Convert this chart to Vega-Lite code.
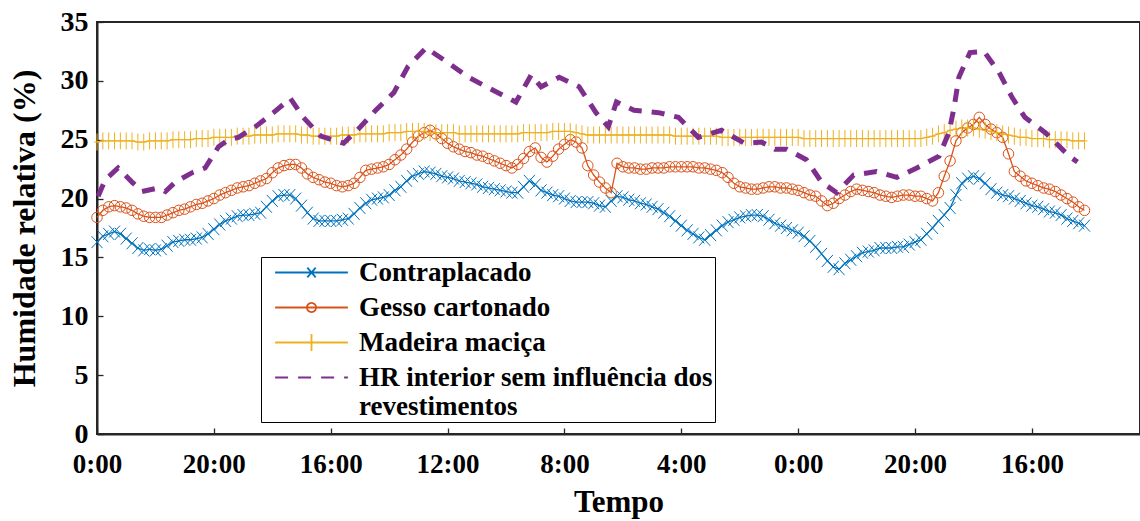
{
  "$schema": "https://vega.github.io/schema/vega-lite/v6.json",
  "width": 1043,
  "height": 412,
  "autosize": "none",
  "padding": {"left": 97, "top": 22, "right": 0, "bottom": 87},
  "background": "white",
  "config": {
    "view": {"stroke": "#262626", "strokeWidth": 2},
    "font": "Liberation Serif",
    "legend": {
      "orient": "none", "legendX": 164, "legendY": 235,
      "labelFont": "Liberation Serif", "labelFontWeight": "bold", "labelFontSize": 27, "labelColor": "black", "labelLimit": 0,
      "symbolSize": 196, "symbolOffset": 35, "labelOffset": 34, "rowPadding": 7,
      "symbolStrokeWidth": 1.8, "symbolOpacity": 1, "symbolFillColor": "transparent",
      "strokeColor": "black", "fillColor": "white", "padding": 2
    }
  },
  "datasets": {
    "mat": [
      {"t":0,"c":16.3,"g":18.4,"m":24.8},{"t":1,"c":16.8,"g":19.0,"m":24.9},{"t":2,"c":17.0,"g":19.3,"m":24.9},{"t":3,"c":17.2,"g":19.4,"m":24.9},{"t":4,"c":17.0,"g":19.3,"m":24.9},{"t":5,"c":16.6,"g":19.2,"m":24.9},{"t":6,"c":16.2,"g":19.0,"m":24.9},{"t":7,"c":15.8,"g":18.7,"m":24.8},{"t":8,"c":15.6,"g":18.5,"m":24.8},{"t":9,"c":15.7,"g":18.4,"m":24.9},
      {"t":10,"c":15.6,"g":18.4,"m":24.9},{"t":11,"c":15.7,"g":18.4,"m":24.9},{"t":12,"c":16.0,"g":18.6,"m":24.9},{"t":13,"c":16.3,"g":18.8,"m":25.0},{"t":14,"c":16.4,"g":19.0,"m":25.0},{"t":15,"c":16.5,"g":19.1,"m":25.0},{"t":16,"c":16.5,"g":19.3,"m":25.0},{"t":17,"c":16.6,"g":19.5,"m":25.1},{"t":18,"c":16.7,"g":19.6,"m":25.1},{"t":19,"c":17.0,"g":19.8,"m":25.1},
      {"t":20,"c":17.4,"g":20.0,"m":25.2},{"t":21,"c":17.8,"g":20.3,"m":25.2},{"t":22,"c":18.1,"g":20.5,"m":25.2},{"t":23,"c":18.3,"g":20.7,"m":25.2},{"t":24,"c":18.5,"g":20.9,"m":25.3},{"t":25,"c":18.6,"g":21.0,"m":25.3},{"t":26,"c":18.6,"g":21.1,"m":25.3},{"t":27,"c":18.7,"g":21.3,"m":25.4},{"t":28,"c":18.8,"g":21.5,"m":25.4},{"t":29,"c":19.3,"g":21.7,"m":25.4},
      {"t":30,"c":19.8,"g":22.2,"m":25.4},{"t":31,"c":20.2,"g":22.6,"m":25.5},{"t":32,"c":20.3,"g":22.8,"m":25.5},{"t":33,"c":20.3,"g":22.9,"m":25.5},{"t":34,"c":20.0,"g":22.9,"m":25.5},{"t":35,"c":19.4,"g":22.6,"m":25.4},{"t":36,"c":18.8,"g":22.1,"m":25.4},{"t":37,"c":18.3,"g":21.8,"m":25.3},{"t":38,"c":18.1,"g":21.6,"m":25.3},{"t":39,"c":18.1,"g":21.4,"m":25.3},
      {"t":40,"c":18.1,"g":21.3,"m":25.3},{"t":41,"c":18.1,"g":21.1,"m":25.3},{"t":42,"c":18.2,"g":21.0,"m":25.4},{"t":43,"c":18.3,"g":21.1,"m":25.4},{"t":44,"c":18.7,"g":21.3,"m":25.4},{"t":45,"c":19.2,"g":21.8,"m":25.5},{"t":46,"c":19.6,"g":22.4,"m":25.5},{"t":47,"c":19.9,"g":22.5,"m":25.5},{"t":48,"c":20.0,"g":22.6,"m":25.5},{"t":49,"c":20.1,"g":22.7,"m":25.5},
      {"t":50,"c":20.3,"g":22.9,"m":25.6},{"t":51,"c":20.7,"g":23.3,"m":25.6},{"t":52,"c":21.0,"g":23.7,"m":25.6},{"t":53,"c":21.5,"g":24.2,"m":25.7},{"t":54,"c":21.9,"g":24.8,"m":25.7},{"t":55,"c":22.1,"g":25.3,"m":25.7},{"t":56,"c":22.3,"g":25.6,"m":25.7},{"t":57,"c":22.2,"g":25.8,"m":25.6},{"t":58,"c":22.1,"g":25.5,"m":25.6},{"t":59,"c":21.9,"g":25.1,"m":25.6},
      {"t":60,"c":21.8,"g":24.7,"m":25.6},{"t":61,"c":21.7,"g":24.4,"m":25.6},{"t":62,"c":21.5,"g":24.2,"m":25.5},{"t":63,"c":21.4,"g":24.0,"m":25.5},{"t":64,"c":21.3,"g":23.9,"m":25.5},{"t":65,"c":21.2,"g":23.7,"m":25.5},{"t":66,"c":21.0,"g":23.6,"m":25.5},{"t":67,"c":20.9,"g":23.4,"m":25.5},{"t":68,"c":20.8,"g":23.2,"m":25.5},{"t":69,"c":20.7,"g":23.0,"m":25.5},
      {"t":70,"c":20.6,"g":22.8,"m":25.5},{"t":71,"c":20.5,"g":22.6,"m":25.5},{"t":72,"c":20.5,"g":22.9,"m":25.5},{"t":73,"c":21.0,"g":23.4,"m":25.6},{"t":74,"c":21.5,"g":24.0,"m":25.6},{"t":75,"c":21.2,"g":24.3,"m":25.6},{"t":76,"c":20.7,"g":23.5,"m":25.6},{"t":77,"c":20.5,"g":23.1,"m":25.6},{"t":78,"c":20.3,"g":23.6,"m":25.7},{"t":79,"c":20.2,"g":24.2,"m":25.7},
      {"t":80,"c":20.0,"g":24.6,"m":25.7},{"t":81,"c":19.8,"g":25.0,"m":25.7},{"t":82,"c":19.7,"g":24.8,"m":25.6},{"t":83,"c":19.7,"g":24.3,"m":25.5},{"t":84,"c":19.7,"g":22.8,"m":25.4},{"t":85,"c":19.6,"g":22.0,"m":25.4},{"t":86,"c":19.4,"g":21.4,"m":25.4},{"t":87,"c":19.3,"g":20.9,"m":25.4},{"t":88,"c":19.8,"g":20.5,"m":25.4},{"t":89,"c":20.2,"g":23.0,"m":25.4},
      {"t":90,"c":20.1,"g":22.7,"m":25.4},{"t":91,"c":19.9,"g":22.6,"m":25.4},{"t":92,"c":19.8,"g":22.6,"m":25.4},{"t":93,"c":19.6,"g":22.5,"m":25.4},{"t":94,"c":19.5,"g":22.5,"m":25.4},{"t":95,"c":19.3,"g":22.6,"m":25.4},{"t":96,"c":19.1,"g":22.6,"m":25.4},{"t":97,"c":18.8,"g":22.6,"m":25.4},{"t":98,"c":18.5,"g":22.7,"m":25.4},{"t":99,"c":18.1,"g":22.7,"m":25.3},
      {"t":100,"c":17.7,"g":22.7,"m":25.3},{"t":101,"c":17.3,"g":22.7,"m":25.3},{"t":102,"c":17.0,"g":22.7,"m":25.3},{"t":103,"c":16.7,"g":22.6,"m":25.3},{"t":104,"c":16.5,"g":22.6,"m":25.3},{"t":105,"c":16.9,"g":22.5,"m":25.3},{"t":106,"c":17.3,"g":22.4,"m":25.3},{"t":107,"c":17.7,"g":22.2,"m":25.2},{"t":108,"c":18.0,"g":21.8,"m":25.2},{"t":109,"c":18.2,"g":21.3,"m":25.2},
      {"t":110,"c":18.4,"g":21.0,"m":25.2},{"t":111,"c":18.5,"g":20.9,"m":25.2},{"t":112,"c":18.6,"g":20.8,"m":25.2},{"t":113,"c":18.6,"g":20.8,"m":25.2},{"t":114,"c":18.5,"g":20.9,"m":25.2},{"t":115,"c":18.2,"g":21.0,"m":25.2},{"t":116,"c":17.9,"g":21.0,"m":25.2},{"t":117,"c":17.7,"g":20.9,"m":25.2},{"t":118,"c":17.5,"g":20.9,"m":25.2},{"t":119,"c":17.3,"g":20.8,"m":25.2},
      {"t":120,"c":17.1,"g":20.7,"m":25.2},{"t":121,"c":16.8,"g":20.5,"m":25.1},{"t":122,"c":16.4,"g":20.3,"m":25.1},{"t":123,"c":15.9,"g":20.2,"m":25.1},{"t":124,"c":15.3,"g":19.8,"m":25.1},{"t":125,"c":14.7,"g":19.4,"m":25.1},{"t":126,"c":14.2,"g":19.6,"m":25.1},{"t":127,"c":14.0,"g":20.0,"m":25.1},{"t":128,"c":14.5,"g":20.3,"m":25.1},{"t":129,"c":14.8,"g":20.6,"m":25.1},
      {"t":130,"c":15.1,"g":20.8,"m":25.1},{"t":131,"c":15.4,"g":20.7,"m":25.1},{"t":132,"c":15.5,"g":20.6,"m":25.1},{"t":133,"c":15.6,"g":20.5,"m":25.1},{"t":134,"c":15.8,"g":20.3,"m":25.1},{"t":135,"c":15.8,"g":20.2,"m":25.1},{"t":136,"c":15.8,"g":20.1,"m":25.1},{"t":137,"c":15.9,"g":20.2,"m":25.1},{"t":138,"c":15.9,"g":20.3,"m":25.1},{"t":139,"c":16.1,"g":20.3,"m":25.1},
      {"t":140,"c":16.3,"g":20.2,"m":25.1},{"t":141,"c":16.5,"g":20.2,"m":25.1},{"t":142,"c":17.0,"g":20.0,"m":25.2},{"t":143,"c":17.5,"g":19.8,"m":25.3},{"t":144,"c":18.1,"g":20.5,"m":25.5},{"t":145,"c":18.6,"g":21.9,"m":25.6},{"t":146,"c":19.2,"g":23.2,"m":25.8},{"t":147,"c":20.3,"g":24.9,"m":25.9},{"t":148,"c":21.3,"g":25.6,"m":26.0},{"t":149,"c":21.7,"g":26.0,"m":26.0},
      {"t":150,"c":21.9,"g":26.3,"m":26.0},{"t":151,"c":21.7,"g":26.9,"m":25.9},{"t":152,"c":21.3,"g":26.3,"m":25.8},{"t":153,"c":20.8,"g":25.9,"m":25.7},{"t":154,"c":20.5,"g":25.6,"m":25.6},{"t":155,"c":20.3,"g":25.2,"m":25.5},{"t":156,"c":20.2,"g":23.8,"m":25.4},{"t":157,"c":20.0,"g":22.3,"m":25.3},{"t":158,"c":19.8,"g":21.9,"m":25.2},{"t":159,"c":19.6,"g":21.5,"m":25.2},
      {"t":160,"c":19.4,"g":21.3,"m":25.1},{"t":161,"c":19.3,"g":21.1,"m":25.1},{"t":162,"c":19.1,"g":20.9,"m":25.1},{"t":163,"c":18.9,"g":20.8,"m":25.0},{"t":164,"c":18.8,"g":20.6,"m":25.0},{"t":165,"c":18.6,"g":20.3,"m":25.0},{"t":166,"c":18.3,"g":20.0,"m":25.0},{"t":167,"c":18.1,"g":19.7,"m":24.9},{"t":168,"c":17.9,"g":19.3,"m":24.9},{"t":169,"c":17.7,"g":19.0,"m":24.9}
    ],
    "hr": [
      {"t":0.2,"h":20.2},{"t":1.4,"h":21.6},{"t":3.6,"h":22.6},{"t":6.0,"h":21.4},{"t":7.7,"h":20.6},{"t":10.5,"h":20.9},{"t":11.7,"h":20.6},{"t":13.4,"h":21.4},{"t":16.3,"h":22.2},{"t":18.5,"h":22.6},
      {"t":20.8,"h":24.4},{"t":22.5,"h":25.0},{"t":24.2,"h":25.2},{"t":27.1,"h":26.1},{"t":30.2,"h":27.3},{"t":33.1,"h":28.5},{"t":35.3,"h":26.9},{"t":38.3,"h":25.3},{"t":42.2,"h":24.7},{"t":45.1,"h":26.1},
      {"t":47.7,"h":27.5},{"t":50.8,"h":29.0},{"t":53.2,"h":31.2},{"t":56.3,"h":32.8},{"t":60.2,"h":31.5},{"t":63.6,"h":30.3},{"t":67.8,"h":29.2},{"t":71.7,"h":28.2},{"t":74.3,"h":30.5},{"t":76.0,"h":29.5},
      {"t":79.1,"h":30.3},{"t":82.5,"h":29.5},{"t":85.4,"h":27.3},{"t":87.5,"h":26.1},{"t":88.9,"h":28.2},{"t":91.9,"h":27.5},{"t":96.1,"h":27.3},{"t":99.5,"h":26.9},{"t":102.9,"h":25.2},{"t":106.9,"h":25.8},
      {"t":110.8,"h":24.7},{"t":113.7,"h":24.8},{"t":116.0,"h":24.2},{"t":118.0,"h":24.2},{"t":121.4,"h":23.3},{"t":124.0,"h":21.4},{"t":126.6,"h":20.5},{"t":129.5,"h":22.0},{"t":133.4,"h":22.3},{"t":136.9,"h":21.8},
      {"t":140.3,"h":22.6},{"t":144.1,"h":23.6},{"t":145.8,"h":25.6},{"t":146.7,"h":27.8},{"t":147.5,"h":30.3},{"t":149.4,"h":32.4},{"t":151.8,"h":32.5},{"t":154.4,"h":30.7},{"t":156.6,"h":28.6},{"t":158.8,"h":26.9},
      {"t":162.3,"h":25.6},{"t":166.4,"h":23.6},{"t":167.8,"h":23.1}
    ]
  },
  "layer": [
    {
      "data": {"name": "mat"},
      "transform": [{"fold": ["c", "g", "m"], "as": ["k", "v"]}],
      "mark": {"type": "line", "strokeWidth": 1.3},
      "encoding": {
        "x": {"field": "t", "type": "quantitative", "scale": {"domain": [0, 178.5], "nice": false, "zero": false},
          "axis": {"orient": "bottom", "title": "Tempo", "grid": false, "values": [0,20,40,60,80,100,120,140,160],
            "labelExpr": "(datum.value % 24) + ':00'", "tickSize": -6, "tickColor": "#262626", "tickWidth": 1.3,
            "domainColor": "#262626", "domainWidth": 2, "labelFont": "Liberation Serif", "labelFontWeight": "bold",
            "labelFontSize": 27, "labelColor": "black", "labelPadding": 23, "labelFlush": false, "labelOverlap": false,
            "titleFont": "Liberation Serif", "titleFontWeight": "bold", "titleFontSize": 31, "titleColor": "black", "titlePadding": 10}},
        "y": {"field": "v", "type": "quantitative", "scale": {"domain": [0, 35], "nice": false},
          "axis": {"orient": "left", "title": "Humidade relativa (%)", "grid": false, "values": [0,5,10,15,20,25,30,35],
            "tickSize": -6, "tickColor": "#262626", "tickWidth": 1.3, "domainColor": "#262626", "domainWidth": 2,
            "labelFont": "Liberation Serif", "labelFontWeight": "bold", "labelFontSize": 28, "labelColor": "black", "labelPadding": 15,
            "titleFont": "Liberation Serif", "titleFontWeight": "bold", "titleFontSize": 32, "titleColor": "black", "titlePadding": 19}},
        "color": {"field": "k", "type": "nominal",
          "scale": {"domain": ["c", "g", "m", "h"], "range": ["#0072BD", "#D95319", "#EDB120", "#7E2F8E"]},
          "legend": {"title": null, "labelExpr": "datum.value == 'c' ? 'Contraplacado' : datum.value == 'g' ? 'Gesso cartonado' : datum.value == 'm' ? 'Madeira maciça' : ['HR interior sem influência dos\u00a0\u00a0\u00a0\u00a0\u00a0\u00a0\u00a0\u00a0\u00a0\u00a0\u00a0', 'revestimentos']"}},
        "strokeDash": {"field": "k", "type": "nominal",
          "scale": {"domain": ["c", "g", "m", "h"], "range": [[1, 0], [1, 0], [1, 0], [13, 10]]},
          "legend": {"title": null, "labelExpr": "datum.value == 'c' ? 'Contraplacado' : datum.value == 'g' ? 'Gesso cartonado' : datum.value == 'm' ? 'Madeira maciça' : ['HR interior sem influência dos\u00a0\u00a0\u00a0\u00a0\u00a0\u00a0\u00a0\u00a0\u00a0\u00a0\u00a0', 'revestimentos']"}}
      }
    },
    {
      "data": {"name": "mat"},
      "transform": [{"fold": ["c", "g", "m"], "as": ["k", "v"]}, {"filter": "datum.k === 'c'"}],
      "mark": {"type": "point", "filled": false, "size": 100, "strokeWidth": 1, "opacity": 1, "color": "#0072BD", "shape": "M-1.1,-1.2L1.1,1.2M-1.1,1.2L1.1,-1.2"},
      "encoding": {
        "x": {"field": "t", "type": "quantitative"},
        "y": {"field": "v", "type": "quantitative"}
      }
    },
    {
      "data": {"name": "mat"},
      "transform": [{"fold": ["c", "g", "m"], "as": ["k", "v"]}, {"filter": "datum.k === 'g'"}],
      "mark": {"type": "point", "filled": false, "size": 100, "strokeWidth": 1, "opacity": 1, "color": "#D95319", "shape": "M-1.05,0A1.05,1.05,0,1,1,1.05,0A1.05,1.05,0,1,1,-1.05,0"},
      "encoding": {
        "x": {"field": "t", "type": "quantitative"},
        "y": {"field": "v", "type": "quantitative"}
      }
    },
    {
      "data": {"name": "mat"},
      "transform": [{"fold": ["c", "g", "m"], "as": ["k", "v"]}, {"filter": "datum.k === 'm'"}],
      "mark": {"type": "point", "filled": false, "size": 100, "strokeWidth": 1, "opacity": 1, "color": "#EDB120", "shape": "M0,-1.7V1.7M-0.6,0H0.6"},
      "encoding": {
        "x": {"field": "t", "type": "quantitative"},
        "y": {"field": "v", "type": "quantitative"}
      }
    },
    {
      "data": {"name": "mat"},
      "transform": [{"fold": ["c", "g", "m"], "as": ["k", "v"]}],
      "mark": {"type": "point", "filled": false, "opacity": 0},
      "encoding": {
        "x": {"field": "t", "type": "quantitative"},
        "y": {"field": "v", "type": "quantitative"},
        "shape": {"field": "k", "type": "nominal",
          "scale": {"domain": ["c", "g", "m", "h"], "range": [
            "M-5.2,0H5.2M-0.6,-0.7L0.6,0.7M-0.6,0.7L0.6,-0.7",
            "M-5.2,0H5.2M-0.65,0A0.65,0.65,0,1,1,0.65,0A0.65,0.65,0,1,1,-0.65,0",
            "M-5.2,0H5.2M0,-1.2V1.2",
            "M-5.2,0H5.2"]},
          "legend": {"title": null, "labelExpr": "datum.value == 'c' ? 'Contraplacado' : datum.value == 'g' ? 'Gesso cartonado' : datum.value == 'm' ? 'Madeira maciça' : ['HR interior sem influência dos\u00a0\u00a0\u00a0\u00a0\u00a0\u00a0\u00a0\u00a0\u00a0\u00a0\u00a0', 'revestimentos']"}}
      }
    },
    {
      "data": {"name": "hr"},
      "mark": {"type": "line", "strokeWidth": 5, "strokeDash": [13, 10], "strokeCap": "butt", "color": "#7E2F8E"},
      "encoding": {
        "x": {"field": "t", "type": "quantitative"},
        "y": {"field": "h", "type": "quantitative"}
      }
    }
  ]
}
